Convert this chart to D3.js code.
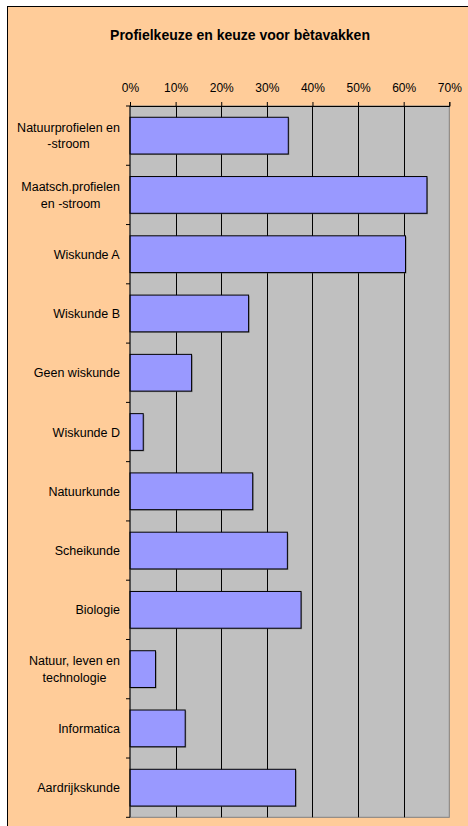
<!DOCTYPE html>
<html>
<head>
<meta charset="utf-8">
<script src="https://cdn.jsdelivr.net/npm/d3@7"></script>
<style>
  body { margin: 0; background: #fff; }
  svg { display: block; font-family: "Liberation Sans", Arial, sans-serif; }
</style>
</head>
<body>
<div id="chart"></div>
<script>
const categories = [
  ["Natuurprofielen en", "-stroom"],
  ["Maatsch.profielen", "en -stroom"],
  ["Wiskunde A"],
  ["Wiskunde B"],
  ["Geen wiskunde"],
  ["Wiskunde D"],
  ["Natuurkunde"],
  ["Scheikunde"],
  ["Biologie"],
  ["Natuur, leven en", "technologie"],
  ["Informatica"],
  ["Aardrijkskunde"],
];
const values = [34.7, 65.1, 60.4, 26.0, 13.5, 2.9, 26.9, 34.5, 37.5, 5.6, 12.1, 36.3];
const tickValues = [0, 10, 20, 30, 40, 50, 60, 70];
const title = "Profielkeuze en keuze voor bètavakken";

const W = 468, H = 826;
const plot = { left: 130, right: 449.3, top: 106, bottom: 817.3 };

const svg = d3.select("#chart").append("svg").attr("width", W).attr("height", H);

// chart frame
svg.append("rect").attr("x", 7.5).attr("y", 6.5).attr("width", W + 10).attr("height", H + 10)
  .attr("fill", "#ffcc99").attr("stroke", "#000").attr("stroke-width", 1);

svg.append("text").attr("x", 240).attr("y", 40).attr("text-anchor", "middle")
  .attr("font-weight", "bold").attr("font-size", 14).attr("fill", "#000").text(title);

const x = d3.scaleLinear().domain([0, 70]).range([plot.left, plot.right]);
const y = d3.scaleBand().domain(d3.range(categories.length)).range([plot.top, plot.bottom]).paddingInner(0.38).paddingOuter(0.19);
const band = d3.scaleBand().domain(d3.range(categories.length)).range([plot.top, plot.bottom]);

svg.append("rect").attr("x", plot.left).attr("y", plot.top)
  .attr("width", plot.right - plot.left).attr("height", plot.bottom - plot.top)
  .attr("fill", "#c0c0c0").attr("stroke", "#808080").attr("stroke-width", 1);

// gridlines
svg.append("g").selectAll("line").data(tickValues.slice(1, -1)).join("line")
  .attr("x1", (d) => Math.round(x(d)) + 0.5).attr("x2", (d) => Math.round(x(d)) + 0.5)
  .attr("y1", plot.top).attr("y2", plot.bottom).attr("stroke", "#000").attr("stroke-width", 1);

// bars with shadow
const bars = svg.append("g");
bars.selectAll("rect.shadow").data(values).join("rect").attr("class", "shadow")
  .attr("x", x(0) + 1).attr("y", (d, i) => y(i) + 1)
  .attr("width", (d) => x(d) - x(0)).attr("height", y.bandwidth())
  .attr("fill", "#555").attr("opacity", 0.6);
bars.selectAll("rect.bar").data(values).join("rect").attr("class", "bar")
  .attr("x", x(0)).attr("y", (d, i) => y(i))
  .attr("width", (d) => x(d) - x(0)).attr("height", y.bandwidth())
  .attr("fill", "#9999ff").attr("stroke", "#000").attr("stroke-width", 1);

// top axis
const xAxis = svg.append("g").attr("transform", `translate(0,${plot.top})`)
  .call(d3.axisTop(x).tickValues(tickValues).tickFormat((d) => d + "%").tickSize(4).tickPadding(10));
xAxis.select(".domain").attr("stroke", "#000");
xAxis.selectAll("text").attr("font-size", 12).attr("font-family", "Liberation Sans, Arial, sans-serif").attr("fill", "#000");

// left axis ticks at category boundaries
const boundaries = d3.range(categories.length + 1).map((i) => plot.top + i * band.step());
svg.append("line").attr("x1", plot.left).attr("x2", plot.left).attr("y1", plot.top).attr("y2", plot.bottom)
  .attr("stroke", "#000");
svg.append("g").selectAll("line").data(boundaries).join("line")
  .attr("x1", plot.left - 4).attr("x2", plot.left)
  .attr("y1", (d) => d).attr("y2", (d) => d).attr("stroke", "#000");

// category labels, centered lines in a right-aligned block
const labelRight = 120;
const labels = svg.append("g").attr("font-size", 12.5).attr("fill", "#000");
categories.forEach((lines, i) => {
  const cy = band(i) + band.bandwidth() / 2;
  const t = labels.append("text").attr("text-anchor", "middle");
  lines.forEach((line, j) => {
    t.append("tspan").attr("x", 0).attr("y", cy + (j - (lines.length - 1) / 2) * 16.5 + 4.5).text(line);
  });
  const bw = t.node().getBBox().width;
  t.selectAll("tspan").attr("x", labelRight - bw / 2);
});
</script>
</body>
</html>
